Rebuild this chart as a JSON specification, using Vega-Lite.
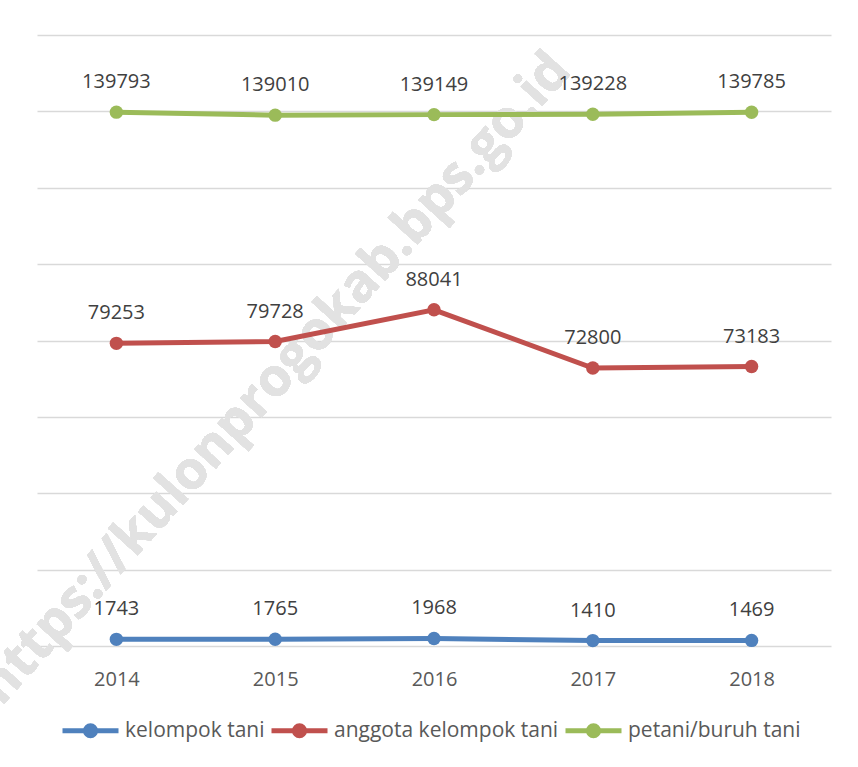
{
  "$schema": "https://vega.github.io/schema/vega-lite/v6.json",
  "width": 794,
  "height": 611,
  "autosize": {"type": "none"},
  "padding": {"left": 37, "top": 35, "right": 27, "bottom": 121},
  "background": "white",
  "config": {
    "view": {"stroke": null},
    "font": "Open Sans"
  },
  "data": {
    "values": [
      {"tahun": "2014", "seri": "kelompok tani", "nilai": 1743},
      {"tahun": "2015", "seri": "kelompok tani", "nilai": 1765},
      {"tahun": "2016", "seri": "kelompok tani", "nilai": 1968},
      {"tahun": "2017", "seri": "kelompok tani", "nilai": 1410},
      {"tahun": "2018", "seri": "kelompok tani", "nilai": 1469},
      {"tahun": "2014", "seri": "anggota kelompok tani", "nilai": 79253},
      {"tahun": "2015", "seri": "anggota kelompok tani", "nilai": 79728},
      {"tahun": "2016", "seri": "anggota kelompok tani", "nilai": 88041},
      {"tahun": "2017", "seri": "anggota kelompok tani", "nilai": 72800},
      {"tahun": "2018", "seri": "anggota kelompok tani", "nilai": 73183},
      {"tahun": "2014", "seri": "petani/buruh tani", "nilai": 139793},
      {"tahun": "2015", "seri": "petani/buruh tani", "nilai": 139010},
      {"tahun": "2016", "seri": "petani/buruh tani", "nilai": 139149},
      {"tahun": "2017", "seri": "petani/buruh tani", "nilai": 139228},
      {"tahun": "2018", "seri": "petani/buruh tani", "nilai": 139785}
    ]
  },
  "encoding": {
    "x": {
      "field": "tahun",
      "type": "ordinal",
      "title": null,
      "scale": {"type": "point", "padding": 0.5},
      "axis": {
        "domain": false,
        "ticks": false,
        "grid": false,
        "labelAngle": 0,
        "labelFont": "Open Sans",
        "labelFontSize": 20,
        "labelColor": "#595959",
        "labelBaseline": "alphabetic",
        "labelPadding": 39
      }
    },
    "y": {
      "field": "nilai",
      "type": "quantitative",
      "title": null,
      "scale": {"domain": [0, 160000], "nice": false, "zero": true},
      "axis": {
        "labels": false,
        "ticks": false,
        "domain": false,
        "grid": true,
        "gridColor": "#D9D9D9",
        "gridWidth": 1.3,
        "values": [0, 20000, 40000, 60000, 80000, 100000, 120000, 140000, 160000]
      }
    }
  },
  "layer": [
    {
      "mark": {
        "type": "text",
        "text": "https://kulonprogokab.bps.go.id",
        "font": "Open Sans",
        "fontWeight": "bold",
        "fontSize": 53,
        "angle": -48,
        "align": "center",
        "baseline": "middle",
        "color": "#E2E2E2"
      },
      "encoding": {
        "x": {"datum": "2015", "type": "ordinal"},
        "y": {"datum": 70000, "type": "quantitative"}
      }
    },
    {
      "encoding": {
        "color": {
          "field": "seri",
          "type": "nominal",
          "scale": {
            "domain": ["kelompok tani", "anggota kelompok tani", "petani/buruh tani"],
            "range": ["#4F81BD", "#C0504D", "#9BBB59"]
          },
          "legend": {
            "title": null,
            "orient": "none",
            "direction": "horizontal",
            "columns": 3,
            "legendX": 23,
            "legendY": 665,
            "padding": 0,
            "labelFont": "Open Sans",
            "labelFontSize": 21,
            "labelColor": "#595959",
            "labelLimit": 500,
            "labelOffset": 4,
            "columnPadding": -4,
            "symbolType": "M-1,0H1M-0.18,0A0.18,0.18,0,1,0,0.18,0A0.18,0.18,0,1,0,-0.18,0Z",
            "symbolSize": 3136,
            "symbolStrokeWidth": 5,
            "encode": {
              "symbols": {
                "update": {
                  "fill": {"scale": "color", "field": "value"},
                  "stroke": {"scale": "color", "field": "value"},
                  "opacity": {"value": 1}
                }
              }
            }
          }
        }
      },
      "layer": [
        {"mark": {"type": "line", "strokeWidth": 5}},
        {"mark": {"type": "point", "filled": true, "size": 180, "opacity": 1}},
        {
          "mark": {
            "type": "text",
            "font": "Open Sans",
            "fontSize": 20,
            "baseline": "alphabetic",
            "align": "center",
            "dy": -24
          },
          "encoding": {
            "text": {"field": "nilai", "type": "quantitative", "format": "d"},
            "color": {"value": "#404040"}
          }
        }
      ]
    }
  ]
}
